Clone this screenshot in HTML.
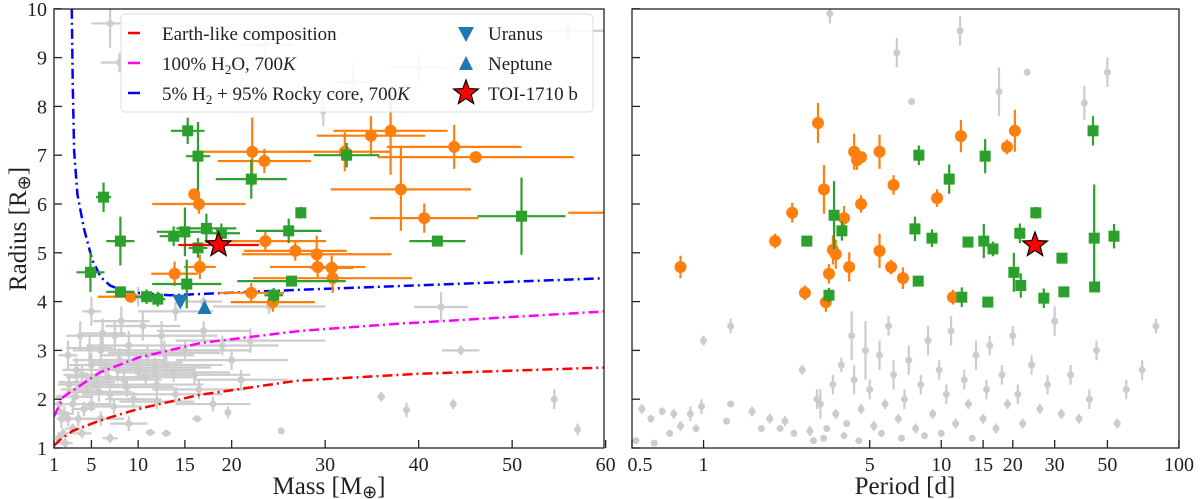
<!DOCTYPE html>
<html><head><meta charset="utf-8"><style>
html,body{margin:0;padding:0;background:#fff;}
svg{display:block;font-family:"Liberation Serif",serif;}
</style></head><body>
<svg id="chart" width="1200" height="499" viewBox="0 0 1200 499" xmlns="http://www.w3.org/2000/svg">
<defs>
<clipPath id="clipL"><rect x="54" y="9" width="550" height="439"/></clipPath>
<clipPath id="clipR"><rect x="632" y="9" width="547" height="439"/></clipPath>
</defs>
<g id="gL" clip-path="url(#clipL)"></g>
<g id="gR" clip-path="url(#clipR)"></g>
<g id="axes"></g>
<g id="legend"></g>
</svg>
<script>
// ---------- data ----------
const earthMass=[1,1.6,3,6,10,16.6,27,40,60];
const earthRad=[1.05,1.16,1.35,1.57,1.8,2.09,2.38,2.52,2.65];
const waterMass=[1,2,5.9,10,16.6,27.3,38,60];
const waterRad=[1.65,2.05,2.55,2.85,3.15,3.4,3.55,3.8];
const h2Mass=[2.9,3.0,3.15,3.5,4.2,5.1,6,7,8.6,13.4,27,60];
const h2Rad=[10,8.5,7.1,6.2,5.5,4.85,4.5,4.33,4.2,4.13,4.24,4.48];
// [mass, radius, massErr, radErr]
const greenL=[[15.3,7.5,1.8,0.27],[16.4,6.98,1.3,0.7],[22.1,6.51,3.8,0.4],[6.3,6.14,0.8,0.3],[27.4,5.82,0.3,0.12],[15.0,5.43,3,0.5],[17.3,5.5,3.2,0.3],[18.9,5.4,2,0.2],[13.8,5.34,1.5,0.2],[16.4,5.1,1,0.2],[8.1,5.24,1.5,0.5],[26.1,5.45,3.5,0.25],[4.9,4.6,1.5,0.4],[15.2,4.36,3.7,0.5],[26.4,4.42,5.8,0.1],[8.1,4.2,1.5,0.1],[10.9,4.1,1.2,0.15],[12.1,4.05,0.8,0.15],[24.5,4.13,1,0.15],[32.3,7.0,3.5,0.25],[51,5.75,4.7,0.79],[42,5.24,3,0.1]];
const orangeL=[[22.2,7.07,6.3,0.7],[23.5,6.88,5,0.25],[16,6.2,0,0],[16.5,6.0,5,0.2],[23.6,5.24,6.5,0.2],[26.8,5.04,5.5,0.2],[29.1,4.97,8,0.38],[16.6,4.71,1.7,0.25],[13.9,4.57,2.5,0.25],[9.2,4.1,3.5,0.1],[22.1,4.18,3.5,0.2],[24.4,3.99,4.5,0.2],[32.1,7.07,5,0.4],[34.9,7.4,5.8,0.4],[37,7.5,6.1,0.9],[43.8,7.17,7.2,0.45],[46.1,6.96,10.5,0.1],[38.1,6.3,7.5,0.85],[40.6,5.71,5.8,0.3],[29.2,4.71,5.1,0.25],[30.7,4.69,2.3,0.25],[30.8,4.48,8.5,0.3],[68,5.82,12,0.1]];
const grayL=[[2,1.3,0.6,0.1],[2.5,1.6,1,0.15],[3,1.9,1.5,0.2],[3.5,2.2,1.8,0.2],[4,2.5,2,0.2],[4.2,1.8,1.2,0.15],[5,2.7,2.5,0.25],[5.5,2.3,3,0.2],[6,3.0,3,0.3],[6.5,2.6,4,0.2],[7,2.1,3,0.2],[7.5,3.3,3,0.3],[8,2.8,5,0.25],[8.5,2.4,4,0.2],[9,3.1,4.5,0.3],[9.5,2.0,3,0.15],[10,2.6,6,0.2],[10.5,3.5,4,0.3],[11,2.9,5,0.2],[12,2.3,5,0.2],[12.5,3.3,6,0.3],[13,2.7,6,0.2],[14,3.8,4,0.2],[14,2.1,5,0.15],[15,3.0,7,0.2],[16,2.5,6,0.2],[17,3.4,5,0.2],[18,1.9,4,0.15],[20,2.8,6,0.2],[22,3.2,8,0.25],[24,3.9,6,0.15],[3,1.4,0.8,0.1],[2.2,1.1,0.8,0.1],[1.5,1.2,0.4,0.1],[4,1.3,1,0.1],[5,1.9,2,0.15],[6,1.6,2.5,0.15],[7,1.2,0.8,0.1],[9,1.5,2,0.15],[11.3,1.32,0.5,0.05],[13,1.3,0.5,0.05],[16.3,1.6,0.5,0.05],[19.6,1.73,0.3,0.12],[25.3,1.35,0.3,0.05],[36,2.05,0.4,0.1],[38.7,1.78,0.3,0.15],[57,1.38,0.3,0.12],[54.5,2.0,0.3,0.2],[44.5,3.0,2,0.1],[43.7,1.9,0.3,0.1],[7,9.7,2,0.5],[23.6,9.26,3,0.4],[56,9.55,4,0.2],[8,8.9,2,0.2],[19,8.85,2,0.3],[33,8.5,2,0.4],[40,8.8,3,0.3],[17,4.0,2,0.1],[10,4.1,1.5,0.2],[5,3.8,1,0.3],[42.4,3.89,2.9,0.3],[29.8,7.9,0.3,0.3],[2.5,2.9,1,0.3],[3.8,3.3,1.5,0.3],[1.8,1.6,0.5,0.2],[3.2,2.05,2,0.15],[4.5,2.35,3,0.2],[5.8,2.15,3.5,0.2],[6.8,2.45,4.5,0.2],[7.8,2.6,4,0.25],[8.8,2.25,5,0.2],[9.8,2.75,5,0.25],[10.8,2.45,5.5,0.2],[11.8,2.65,6,0.2],[12.8,2.95,6,0.25],[13.8,2.55,6,0.2],[4.8,3.05,2.5,0.3],[6.2,3.35,2.5,0.3],[8.2,3.6,3,0.3],[3.4,2.6,1.5,0.25],[2.6,2.3,1.2,0.2],[1.6,1.9,0.8,0.2],[2.1,1.7,1,0.15],[3.6,1.6,1.5,0.15],[7.4,1.85,3,0.15],[16.5,2.2,5,0.2],[19,3.1,6,0.2],[21,2.4,5,0.2],[12,1.95,4,0.15]];
const uranus=[14.5,4.0];
const neptune=[17.1,3.87];
const toiL=[18.6,5.16,4.3,0.1];
// [period, radius, radErr]
const orangeR=[[0.8,4.71,0.23],[2.0,5.24,0.15],[2.36,5.82,0.2],[2.67,4.18,0.15],[3.03,7.66,0.41],[3.21,6.3,0.5],[3.27,3.99,0.2],[3.37,4.57,0.2],[3.5,5.06,0.3],[3.6,4.97,0.3],[3.9,5.71,0.25],[4.1,4.71,0.3],[4.3,7.07,0.37],[4.42,6.9,0.2],[4.6,6.96,0.1],[4.6,6.0,0.18],[5.5,7.07,0.35],[5.5,5.04,0.35],[6.15,4.71,0.15],[6.3,6.39,0.2],[6.9,4.48,0.22],[9.6,6.12,0.18],[11.2,4.09,0.15],[12.1,7.39,0.33],[18.9,7.17,0.15],[20.4,7.5,0.43]];
const greenR=[[2.72,5.24,0.05],[3.37,4.13,0.15],[3.54,5.77,0.7],[3.82,5.45,0.2],[7.75,5.49,0.25],[8.05,7.0,0.2],[8.0,4.42,0.05],[9.14,5.3,0.18],[10.8,6.51,0.3],[12.2,4.09,0.2],[12.96,5.22,0.05],[15.3,6.98,0.35],[15.1,5.24,0.35],[16.5,5.08,0.15],[15.7,3.99,0.05],[20.2,4.6,0.4],[21.4,5.4,0.2],[21.6,4.33,0.25],[25,5.82,0.12],[27,4.07,0.2],[32.2,4.89,0.05],[32.8,4.2,0.05],[43.5,7.5,0.3],[44,5.3,1.1],[44.2,4.3,0.1],[53.3,5.34,0.25]];
const grayR=[[0.52,1.15,0.05],[0.55,1.8,0.1],[0.6,1.6,0.08],[0.62,1.1,0.05],[0.67,1.75,0.08],[0.72,1.3,0.05],[0.75,1.7,0.1],[0.8,1.45,0.1],[0.88,1.7,0.15],[0.93,1.4,0.08],[0.98,1.85,0.15],[1.0,3.2,0.1],[1.25,1.55,0.05],[1.3,3.5,0.15],[1.3,1.9,0.05],[1.6,1.75,0.1],[1.75,1.4,0.05],[1.9,1.6,0.1],[2.1,1.4,0.05],[2.2,1.55,0.1],[2.4,1.3,0.05],[2.6,2.6,0.1],[2.8,1.35,0.1],[3.0,2.0,0.2],[3.1,1.9,0.3],[3.3,1.4,0.05],[3.5,2.3,0.2],[3.6,1.7,0.1],[3.8,2.7,0.15],[4.0,1.5,0.05],[4.2,3.3,0.5],[4.3,2.4,0.3],[4.6,1.8,0.1],[4.8,3.0,0.6],[5.0,2.2,0.2],[5.2,1.45,0.1],[5.5,2.9,0.3],[5.8,1.9,0.1],[6.0,3.5,0.2],[6.3,2.5,0.3],[6.6,1.6,0.1],[7.0,2.0,0.2],[7.3,2.8,0.3],[7.5,8.1,0.05],[7.8,1.4,0.1],[8.2,2.3,0.2],[8.8,3.2,0.3],[9.2,1.7,0.1],[9.8,2.6,0.2],[10.5,2.1,0.2],[11,3.4,0.3],[11.5,1.5,0.1],[12,9.55,0.3],[12.5,2.4,0.2],[13,1.9,0.1],[14,2.9,0.3],[15,1.6,0.1],[15.5,2.2,0.2],[16,3.1,0.2],[17,1.4,0.1],[17.5,8.3,0.5],[18,2.5,0.2],[19,1.9,0.1],[20,3.3,0.2],[21,2.1,0.2],[22,1.5,0.1],[23,8.7,0.05],[24,2.7,0.2],[26,1.8,0.1],[28,2.3,0.2],[30,3.6,0.3],[32,1.7,0.1],[35,2.5,0.2],[38,1.6,0.1],[40,8.07,0.35],[42,2.0,0.2],[45,3.0,0.2],[50,8.7,0.3],[55,1.5,0.1],[60,2.2,0.2],[70,2.6,0.2],[80,3.5,0.15],[3.4,9.9,0.2],[6.5,9.1,0.3],[3.2,1.2,0.05],[3.9,1.25,0.05],[4.5,1.15,0.05],[5.6,1.3,0.05],[6.8,1.2,0.05],[8.5,1.25,0.05],[2.9,1.15,0.05],[10,1.3,0.05],[13.5,1.2,0.05]];
const toiR=[24.8,5.16];
const massTicks=[1,5,10,15,20,30,40,50,60];
const periodTicks=[0.5,1,5,10,15,20,30,50,100];
const periodTickLabels=["0.5","1","5","10","15","20","30","50","100"];
const radTicks=[1,2,3,4,5,6,7,8,9,10];

// ---------- scales ----------
const xL=m=>54+(m-1)*9.35;
const yS=r=>448-(r-1)*48.8;
const xR=p=>632+237.7*Math.log10(p/0.5);
const NS="http://www.w3.org/2000/svg";
function mk(tag,attrs,parent){const e=document.createElementNS(NS,tag);for(const k in attrs)e.setAttribute(k,attrs[k]);parent.appendChild(e);return e;}
const gL=document.getElementById('gL'),gR=document.getElementById('gR'),ax=document.getElementById('axes');
const GRAY="#cccccc",GREEN="#2ca02c",ORANGE="#ff7f0e";

function errbar(g,x1,y1,x2,y2,c){return mk('line',{x1:x1,y1:y1,x2:x2,y2:y2,stroke:c,'stroke-width':2.2},g);}
function starPath(cx,cy,R){let d='';for(let i=0;i<10;i++){const rr=i%2?R*0.42:R;const a=-Math.PI/2+i*Math.PI/5;d+=(i?'L':'M')+(cx+rr*Math.cos(a)).toFixed(1)+','+(cy+rr*Math.sin(a)).toFixed(1);}return d+'Z';}

// ---------- left panel ----------
grayL.forEach(d=>{const g=mk('g',{},gL);


const x=xL(d[0]),y=yS(d[1]);
errbar(g,xL(d[0]-d[2]),y,xL(d[0]+d[2]),y,GRAY);errbar(g,x,yS(d[1]-d[3]),x,yS(d[1]+d[3]),GRAY);
mk('circle',{cx:x,cy:y,r:3.5,fill:GRAY},g);});

function curve(ms,rs,color,name){const p=mk('path',{d:ms.map((m,i)=>(i?'L':'M')+xL(m).toFixed(1)+','+yS(rs[i]).toFixed(1)).join(''),fill:'none',stroke:color,'stroke-width':2.5,'stroke-dasharray':'10,4,2,4'},gL);

}
curve(earthMass,earthRad,'#ff0000','earth-like-curve');
curve(waterMass,waterRad,'#ff00ff','water-curve');
curve(h2Mass,h2Rad,'#0000ff','h2-rocky-curve');

orangeL.forEach(d=>{const g=mk('g',{},gL);


const x=xL(d[0]),y=yS(d[1]);
errbar(g,xL(d[0]-d[2]),y,xL(d[0]+d[2]),y,ORANGE);errbar(g,x,yS(d[1]-d[3]),x,yS(d[1]+d[3]),ORANGE);
mk('circle',{cx:x,cy:y,r:6,fill:ORANGE},g);});
greenL.forEach(d=>{const g=mk('g',{},gL);


const x=xL(d[0]),y=yS(d[1]);
errbar(g,xL(d[0]-d[2]),y,xL(d[0]+d[2]),y,GREEN);errbar(g,x,yS(d[1]-d[3]),x,yS(d[1]+d[3]),GREEN);
mk('rect',{x:x-5.5,y:y-5.5,width:11,height:11,fill:GREEN},g);});
(function(){const x=xL(uranus[0]),y=yS(uranus[1]);const p=mk('path',{d:`M${x-8},${y-7}L${x+8},${y-7}L${x},${y+8}Z`,fill:'#1f77b4'},gL);


const x2=xL(neptune[0]),y2=yS(neptune[1]);const q=mk('path',{d:`M${x2-7},${y2+6}L${x2+7},${y2+6}L${x2},${y2-8}Z`,fill:'#1f77b4'},gL);


const g=mk('g',{},gL);


const sx=xL(toiL[0]),sy=yS(toiL[1]);
errbar(g,xL(toiL[0]-toiL[2]),sy,xL(toiL[0]+toiL[2]),sy,'#ff0000');
mk('path',{d:starPath(sx,sy,13),fill:'#ff0000',stroke:'#000','stroke-width':1.2},g);})();

// ---------- right panel ----------
grayR.forEach(d=>{const g=mk('g',{},gR);


const x=xR(d[0]),y=yS(d[1]);errbar(g,x,yS(d[1]-d[2]),x,yS(d[1]+d[2]),GRAY);mk('circle',{cx:x,cy:y,r:3.5,fill:GRAY},g);});
orangeR.forEach(d=>{const g=mk('g',{},gR);


const x=xR(d[0]),y=yS(d[1]);errbar(g,x,yS(d[1]-d[2]),x,yS(d[1]+d[2]),ORANGE);mk('circle',{cx:x,cy:y,r:6,fill:ORANGE},g);});
greenR.forEach(d=>{const g=mk('g',{},gR);


const x=xR(d[0]),y=yS(d[1]);errbar(g,x,yS(d[1]-d[2]),x,yS(d[1]+d[2]),GREEN);mk('rect',{x:x-5.5,y:y-5.5,width:11,height:11,fill:GREEN},g);});
(function(){const p=mk('path',{d:starPath(xR(toiR[0]),yS(toiR[1]),13),fill:'#ff0000',stroke:'#000','stroke-width':1.2},gR);

})();

// ---------- axes ----------
function frame(x,w,name){const r=mk('rect',{x:x,y:9,width:w,height:439,fill:'none',stroke:'#222','stroke-width':1.3},ax);

}
frame(54,550,'left-axes-frame');frame(632,547,'right-axes-frame');
radTicks.forEach(r=>{const y=yS(r);
mk('line',{x1:54,y1:y,x2:62,y2:y,stroke:'#222','stroke-width':1.3},ax);
mk('line',{x1:632,y1:y,x2:640,y2:y,stroke:'#222','stroke-width':1.3},ax);
const t=mk('text',{x:47,y:y+7,'text-anchor':'end','font-size':20,fill:'#222'},ax);t.textContent=r;

});
massTicks.forEach(m=>{const x=xL(m);mk('line',{x1:x,y1:448,x2:x,y2:440,stroke:'#222','stroke-width':1.3},ax);
const t=mk('text',{x:x,y:471,'text-anchor':'middle','font-size':20,fill:'#222'},ax);t.textContent=m;

});
periodTicks.forEach((p,i)=>{const x=xR(p);mk('line',{x1:x,y1:448,x2:x,y2:440,stroke:'#222','stroke-width':1.3},ax);
const t=mk('text',{x:x+(i==0?8:0),y:471,'text-anchor':'middle','font-size':20,fill:'#222'},ax);t.textContent=periodTickLabels[i];

});
</script>
<script>
(function(){const svg=document.getElementById('chart');
svg.insertAdjacentHTML('beforeend',`
<text x="329" y="494" text-anchor="middle" font-size="25" fill="#222">Mass [M<tspan font-family="DejaVu Sans" font-size="18" dy="4">⊕</tspan><tspan dy="-4">]</tspan></text>
<text x="905" y="494" text-anchor="middle" font-size="25" fill="#222">Period [d]</text>
<text transform="translate(26,229) rotate(-90)" text-anchor="middle" font-size="25" fill="#222">Radius [R<tspan font-family="DejaVu Sans" font-size="18" dy="4">⊕</tspan><tspan dy="-4">]</tspan></text>
<g>
<rect x="121" y="14" width="472" height="98" rx="4" fill="rgba(255,255,255,0.85)" stroke="#dddddd" stroke-width="1"/>
<g><line x1="128" y1="33" x2="140" y2="33" stroke="#ff0000" stroke-width="2.5"/><text x="162" y="40" font-size="19" fill="#222">Earth-like composition</text></g>
<g><line x1="128" y1="63" x2="140" y2="63" stroke="#ff00ff" stroke-width="2.5"/><text x="162" y="70" font-size="19" fill="#222">100% H<tspan font-size="13" dy="4">2</tspan><tspan dy="-4">O, 700</tspan><tspan font-style="italic">K</tspan></text></g>
<g><line x1="128" y1="93" x2="140" y2="93" stroke="#0000ff" stroke-width="2.5"/><text x="162" y="100" font-size="19" fill="#222">5% H<tspan font-size="13" dy="4">2</tspan><tspan dy="-4"> + 95% Rocky core, 700</tspan><tspan font-style="italic">K</tspan></text></g>
<g><path d="M458,27L474,27L466,42Z" fill="#1f77b4"/><text x="488" y="40" font-size="19" fill="#222">Uranus</text></g>
<g><path d="M459,70L473,70L466,56Z" fill="#1f77b4"/><text x="488" y="70" font-size="19" fill="#222">Neptune</text></g>
<g><path d="M466.0,80.0L469.2,88.6L478.4,89.0L471.2,94.7L473.6,103.5L466.0,98.5L458.4,103.5L460.8,94.7L453.6,89.0L462.8,88.6Z" fill="#ff0000" stroke="#000" stroke-width="1.2"/><text x="488" y="100" font-size="19" fill="#222">TOI-1710 b</text></g>
</g>`);})();
</script>
</body></html>
